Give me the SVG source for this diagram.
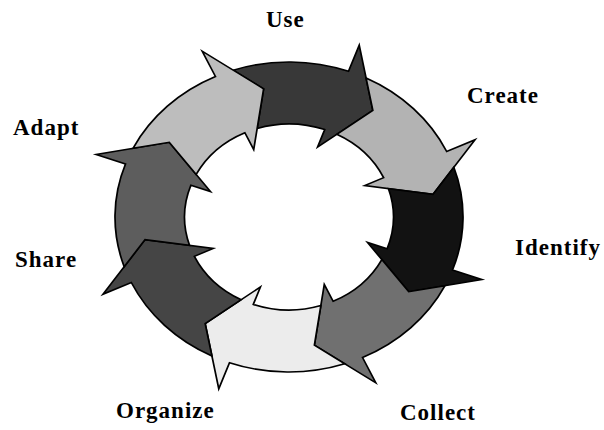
<svg xmlns="http://www.w3.org/2000/svg" xmlns:xlink="http://www.w3.org/1999/xlink" width="604" height="430" viewBox="0 0 604 430">
  <style>
    .arrow { stroke: #000; stroke-width: 1; stroke-linejoin: miter; }
    .arrow path { vector-effect: non-scaling-stroke; }
    .label { font-family: "Liberation Serif", "Times New Roman", serif; font-weight: bold; font-size: 23px; letter-spacing: 1px; fill: #000; }
  </style>
  <defs>
    <path id="seg" d="M 59.20 -80.60 A 100 100 0 0 1 96.59 -25.88 L 113.98 -30.54 L 84 0 L 46.36 -12.42 L 57.96 -15.53 A 60 60 0 0 0 36.31 -47.77 L 59.40 -59.40 Z"/>
  </defs>
  <rect width="604" height="430" fill="#fff"/>
  <g id="connectors"></g>
  <g id="node-use">
    <use class="arrow" xlink:href="#seg" href="#seg" fill="#383838" transform="translate(289 217) scale(1.74 1.55) rotate(305)"/>
    <text class="label" x="266" y="27">Use</text>
  </g>
  <g id="node-create">
    <use class="arrow" xlink:href="#seg" href="#seg" fill="#b3b3b3" transform="translate(289 217) scale(1.74 1.55) rotate(-10)"/>
    <text class="label" x="467" y="103">Create</text>
  </g>
  <g id="node-identify">
    <use class="arrow" xlink:href="#seg" href="#seg" fill="#121212" transform="translate(289 217) scale(1.74 1.55) rotate(35)"/>
    <text class="label" x="515" y="255" letter-spacing="0.6">Identify</text>
  </g>
  <g id="node-collect">
    <use class="arrow" xlink:href="#seg" href="#seg" fill="#707070" transform="translate(289 217) scale(1.74 1.55) rotate(80)"/>
    <text class="label" x="400" y="420">Collect</text>
  </g>
  <g id="node-organize">
    <use class="arrow" xlink:href="#seg" href="#seg" fill="#ececec" transform="translate(289 217) scale(1.74 1.55) rotate(125)"/>
    <text class="label" x="116" y="418">Organize</text>
  </g>
  <g id="node-share">
    <use class="arrow" xlink:href="#seg" href="#seg" fill="#454545" transform="translate(289 217) scale(1.74 1.55) rotate(170)"/>
    <text class="label" x="15" y="267">Share</text>
  </g>
  <g id="node-adapt">
    <use class="arrow" xlink:href="#seg" href="#seg" fill="#5d5d5d" transform="translate(289 217) scale(1.74 1.55) rotate(215)"/>
    <text class="label" x="13" y="135">Adapt</text>
  </g>
  <g id="node-return">
    <use class="arrow" xlink:href="#seg" href="#seg" fill="#bdbdbd" transform="translate(289 217) scale(1.74 1.55) rotate(260)"/>
  </g>
</svg>
